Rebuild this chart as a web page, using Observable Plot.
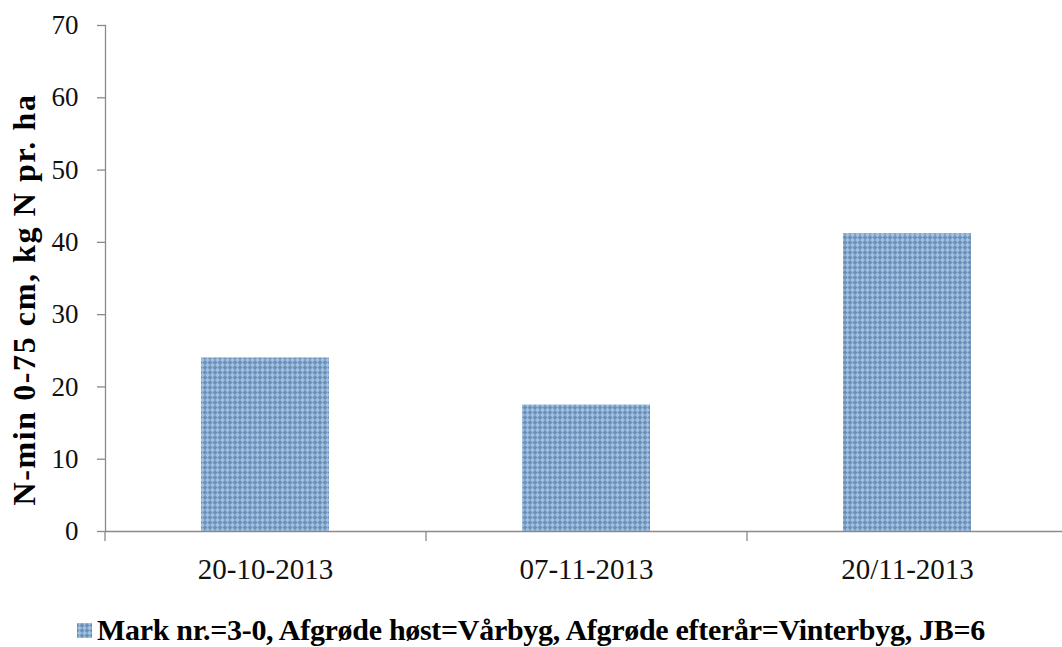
<!DOCTYPE html>
<html>
<head>
<meta charset="utf-8">
<script src="https://cdn.jsdelivr.net/npm/d3@7"></script>
<script src="https://cdn.jsdelivr.net/npm/@observablehq/plot@0.6"></script>
<style>
  html, body { margin: 0; padding: 0; background: #fff; }
  #chart { width: 1062px; }
  .legend {
    font-family: "Liberation Serif", "Times New Roman", serif;
    font-weight: bold;
    font-size: 30px;
    color: #000;
    text-align: center;
    height: 42px;
    line-height: 42px;
    padding-top: 4px;
    letter-spacing: -0.3px;
    white-space: nowrap;
  }
  .legend .sw {
    display: inline-block;
    width: 15px; height: 15px;
    margin-right: 5px;
    vertical-align: 2px;
  }
</style>
</head>
<body>
<div id="chart"></div>
<script>
const dates = ["20-10-2013", "07-11-2013", "20/11-2013"];
const nmin = [24, 17.5, 41.2];
const yTicks = [0, 10, 20, 30, 40, 50, 60, 70];
const yTitle = "N-min 0-75 cm, kg N pr. ha";
const seriesLabel = "Mark nr.=3-0, Afgrøde høst=Vårbyg, Afgrøde efterår=Vinterbyg, JB=6";

const data = dates.map((d, i) => ({date: d, value: nmin[i]}));

const W = 1062, H = 605;
const mL = 105, mT = 25, mB = 74;
const xRange = [105, 1068];
const step = (xRange[1] - xRange[0]) / dates.length;

const plot = Plot.plot({
  width: W,
  height: H,
  marginLeft: mL,
  marginTop: mT,
  marginBottom: mB,
  marginRight: 0,
  style: {fontFamily: "'Liberation Serif', 'Times New Roman', serif", background: "#fff", overflow: "visible"},
  x: {domain: dates, range: xRange, paddingInner: 0.6, paddingOuter: 0.3, label: null},
  y: {domain: [0, 70], label: null},
  marks: [
    Plot.barY(data, {x: "date", y: "value", fill: "url(#hatch)"}),
    Plot.ruleY([0], {stroke: "#8a8a8a", strokeWidth: 1.3}),
    Plot.frame({anchor: "left", stroke: "#8a8a8a", strokeWidth: 1.3}),
    // category boundary ticks (Excel-style)
    Plot.ruleX(dates, {x: d => d, y1: 0, y2: -1.4, dx: -step / 2, stroke: "#8a8a8a", strokeWidth: 1.3}),
    Plot.ruleX(dates.slice(-1), {x: d => d, y1: 0, y2: -1.4, dx: step / 2, stroke: "#8a8a8a", strokeWidth: 1.3}),
    Plot.axisY({ticks: yTicks, tickSize: 8, tickPadding: 19, stroke: "#8a8a8a", strokeWidth: 1.3,
      fontSize: 27, fill: "#111", label: null, tickFormat: d => String(d)}),
    Plot.axisX({tickSize: 0, tickPadding: 27, fontSize: 29, fill: "#111", label: null}),
    Plot.text([yTitle], {frameAnchor: "left", dx: -81, dy: 21, rotate: -90, textAnchor: "middle",
      fontSize: 32, fontWeight: "bold", fill: "#000"})
  ]
});

// slightly widen the y-axis title
plot.querySelectorAll('g[aria-label="text"] text').forEach(t => t.setAttribute("letter-spacing", "1.6"));

// pattern for the bars
const ns = "http://www.w3.org/2000/svg";
const defs = document.createElementNS(ns, "defs");
defs.innerHTML = `
  <pattern id="hatch" patternUnits="userSpaceOnUse" width="5" height="5">
    <rect width="5" height="5" fill="#a0c0e2"/>
    <path d="M0,0 L2.5,2.5 L0,5 Z M5,0 L2.5,2.5 L5,5 Z" fill="#5f85ad" opacity="0.8"/>
  </pattern>`;
plot.insertBefore(defs, plot.firstChild);

document.getElementById("chart").appendChild(plot);

const legend = document.createElement("div");
legend.className = "legend";
legend.innerHTML = `<svg class="sw" width="15" height="15"><rect width="15" height="15" fill="url(#hatch)"/></svg>`;
legend.appendChild(document.createTextNode(seriesLabel));
document.getElementById("chart").appendChild(legend);
</script>
</body>
</html>
